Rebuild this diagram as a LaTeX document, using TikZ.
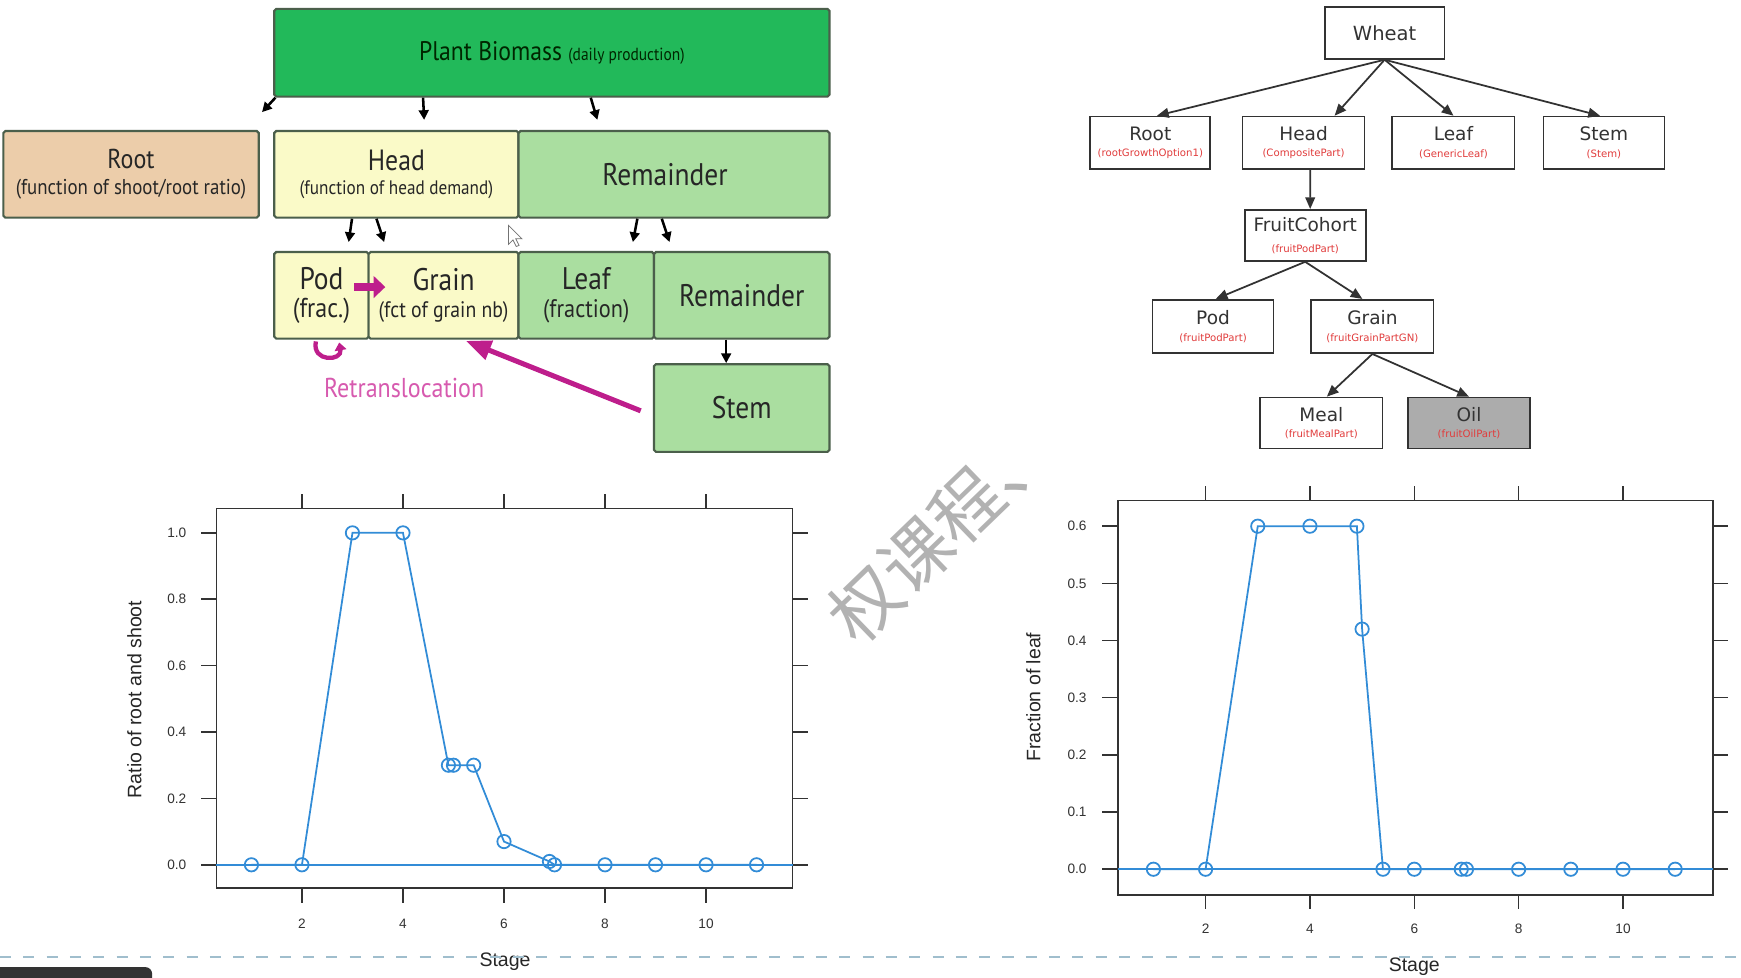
\documentclass[tikz,border=0pt]{standalone}
\usepackage{fontspec}
\setmainfont{Liberation Sans}
\newfontfamily\condf[FakeStretch=0.88]{PT Sans}
\newfontfamily\dejavu{DejaVu Sans}
\newfontfamily\cjk{Noto Sans CJK SC}
\usetikzlibrary{arrows.meta,calc}
\definecolor{pbgreen}{RGB}{34,185,90}
\definecolor{rootfill}{RGB}{236,205,170}
\definecolor{headfill}{RGB}{250,250,200}
\definecolor{remfill}{RGB}{170,222,160}
\definecolor{boxline}{RGB}{75,95,75}
\definecolor{mag}{RGB}{190,30,140}
\definecolor{magtxt}{RGB}{215,90,175}
\definecolor{treeline}{RGB}{50,50,50}
\definecolor{treered}{RGB}{225,60,60}
\definecolor{oilfill}{RGB}{172,172,172}
\definecolor{plotblue}{RGB}{50,140,215}
\definecolor{wmgrey}{RGB}{178,178,178}
\definecolor{dashcol}{RGB}{160,190,205}
\begin{document}
\begin{tikzpicture}[x=0.02cm,y=-0.02cm,
  sz/.style 2 args={minimum width=#1*0.02cm,minimum height=#2*0.02cm},
  lbox/.style={draw=boxline,line width=1.1pt,rounded corners=1pt,inner sep=0pt,align=center,
    font=\condf\fontsize{16}{17}\selectfont,text=black!85},
  larr/.style={-{Triangle[length=5pt,width=5pt]},line width=1.3pt,black},
  marr/.style={mag,line width=2.6pt},
  tbox/.style={draw=treeline,line width=0.9pt,fill=white,inner sep=0pt,align=center,
    font=\dejavu\fontsize{9.5}{10}\selectfont,text=black!80},
  tarr/.style={treeline,line width=0.9pt,-{Triangle[length=6pt,width=5pt]}},
  frame/.style={black!80,line width=0.8pt},
  pline/.style={plotblue,line width=0.9pt},
  tlab/.style={font=\fontsize{7}{8}\selectfont,text=black!80},
  alab/.style={font=\fontsize{10}{12}\selectfont,text=black!85}
]
\fill[white] (0,0) rectangle (1568,880);
\useasboundingbox (0,0) rectangle (1568,880);

% ---------------- left block diagram ----------------
\node[lbox,fill=pbgreen,sz={500}{79},text=black!85!green,font=\condf\fontsize{13.8}{15}\selectfont] (pb) at (497,47.5)
  {Plant Biomass {\fontsize{9}{10}\selectfont (daily production)}};
\node[lbox,fill=rootfill,sz={230}{78},font=\condf\fontsize{14}{15}\selectfont] (root) at (118,157)
  {Root\\[-2pt]{\fontsize{11}{12}\selectfont (function of shoot/root ratio)}};
\node[lbox,fill=headfill,sz={220}{78},font=\condf\fontsize{15}{16}\selectfont] (head) at (357,157)
  {Head\\[-3.4pt]{\fontsize{10}{12}\selectfont (function of head demand)}};
\node[lbox,fill=remfill,sz={280}{78}] (remA) at (607,157) {Remainder\hspace*{0.32cm}};
\node[lbox,fill=headfill,sz={85}{78}] (pod) at (289.5,266)
  {Pod\\[-2.7pt]{\fontsize{14}{15}\selectfont (frac.)}};
\node[lbox,fill=headfill,sz={135}{78}] (grain) at (399.5,266)
  {Grain\\[-2.7pt]{\fontsize{11.5}{13}\selectfont (fct of grain nb)}};
\node[lbox,fill=remfill,sz={122}{78}] (leaf) at (528,266)
  {Leaf\\[-2.7pt]{\fontsize{13}{15}\selectfont (fraction)}};
\node[lbox,fill=remfill,sz={158}{78}] (remB) at (668,266) {Remainder};
\node[lbox,fill=remfill,sz={158}{79}] (stem) at (668,367.5) {Stem};

\coordinate (e1) at (236,101);
\coordinate (e2) at (382,108);
\coordinate (e3) at (538,108);
\draw[larr] ($(pb.south west)+(2,0)$) -- (e1);
\draw[larr] ($(pb.south west)+(135,0)$) -- (e2);
\draw[larr] ($(pb.south west)+(286,0)$) -- (e3);
\coordinate (e4) at (314,218);
\coordinate (e5) at (346,218);
\draw[larr] ($(head.south west)+(71,0)$) -- (e4);
\draw[larr] ($(head.south west)+(93,0)$) -- (e5);
\coordinate (e6) at (570,218);
\coordinate (e7) at (603,218);
\draw[larr] ($(remA.south west)+(108,0)$) -- (e6);
\draw[larr] ($(remA.south west)+(130,0)$) -- (e7);
\draw[larr] ([xshift=-0.28cm]remB.south) -- ([xshift=-0.28cm]stem.north);

% magenta arrows
\draw[marr,line width=4.2pt,-{Triangle[length=6pt,width=11pt]}] ([xshift=-0.28cm,yshift=0.15cm]pod.east) -- ([xshift=0.32cm,yshift=0.15cm]grain.west);
\draw[marr,-{Triangle[length=13pt,width=10pt]}] ([xshift=-0.22cm,yshift=-0.05cm]stem.west) -- ([xshift=0.4cm,yshift=-0.02cm]grain.south);
\draw[marr,line width=2.2pt,-{Triangle[length=4pt,width=6pt]}] ([xshift=-0.1cm,yshift=-0.03cm]pod.south)
  .. controls +(-0.08cm,-0.38cm) and +(0.06cm,-0.34cm) .. ([xshift=0.32cm,yshift=-0.05cm]pod.south);
\node[font=\condf\fontsize{14}{16}\selectfont,text=magtxt] (retr) at (364,349) {Retranslocation};

% mouse cursor
\draw[black!55,fill=white,line width=0.4pt] (458,203) -- (458,220) -- (462,216) -- (465,222) -- (467.5,221) -- (464.5,215) -- (470,215) -- cycle;

% ---------------- right tree ----------------
\node[tbox,sz={108}{47},font=\dejavu\fontsize{10}{11}\selectfont] (wheat) at (1247,29.5) {Wheat};
\node[tbox,sz={108}{47}] (troot) at (1036,128.5)
  {Root\\[-1.5pt]{\fontsize{5.2}{6}\selectfont\color{treered}(rootGrowthOption1)}};
\node[tbox,sz={110}{47}] (thead) at (1174,128.5)
  {Head\\[-1.5pt]{\fontsize{5.2}{6}\selectfont\color{treered}(CompositePart)}};
\node[tbox,sz={110}{47}] (tleaf) at (1309,128.5)
  {Leaf\\[-1.5pt]{\fontsize{5.2}{6}\selectfont\color{treered}(GenericLeaf)}};
\node[tbox,sz={109}{47}] (tstem) at (1444.5,128.5)
  {Stem\\[-1.5pt]{\fontsize{5.2}{6}\selectfont\color{treered}(Stem)}};
\node[tbox,sz={109}{46}] (fruit) at (1175.5,212)
  {FruitCohort\\[1pt]{\fontsize{5.2}{6}\selectfont\color{treered}(fruitPodPart)}};
\node[tbox,sz={109}{48}] (tpod) at (1092.5,294)
  {Pod\\[-1.5pt]{\fontsize{5.2}{6}\selectfont\color{treered}(fruitPodPart)}};
\node[tbox,sz={110}{48}] (tgrain) at (1236,294)
  {Grain\\[-1.5pt]{\fontsize{5.2}{6}\selectfont\color{treered}(fruitGrainPartGN)}};
\node[tbox,sz={110}{46}] (meal) at (1190,381)
  {Meal\\[-1.5pt]{\fontsize{5.2}{6}\selectfont\color{treered}(fruitMealPart)}};
\node[tbox,sz={110}{46},fill=oilfill] (oil) at (1323,381)
  {Oil\\[-1.5pt]{\fontsize{5.2}{6}\selectfont\color{treered}(fruitOilPart)}};

\draw[tarr] (wheat.south) -- ([xshift=0.12cm]troot.north);
\draw[tarr] (wheat.south) -- ([xshift=0.56cm]thead.north);
\draw[tarr] (wheat.south) -- (tleaf.north);
\draw[tarr] (wheat.south) -- ([xshift=-0.07cm]tstem.north);
\draw[tarr] ([xshift=0.12cm]thead.south) -- ([xshift=0.09cm]fruit.north);
\draw[tarr] (fruit.south) -- ([xshift=0.05cm]tpod.north);
\draw[tarr] (fruit.south) -- ([xshift=-0.18cm]tgrain.north);
\draw[tarr] (tgrain.south) -- ([xshift=0.1cm]meal.north);
\draw[tarr] (tgrain.south) -- (oil.north);

% ---------------- watermark ----------------
\node[rotate=44,text=wmgrey,font=\cjk\fontsize{36}{38}\selectfont] (wmark) at (848,478) {权课程、};

% ---------------- left chart ----------------
\begin{scope}[shift={(3.62cm,-15.58cm)},x=0.91cm,y=5.98cm]
  \draw[frame] (0.3077,-0.0702) rectangle (11.714,1.0736);
  \foreach \v [count=\i] in {0.0,0.2,0.4,0.6,0.8,1.0}{
    \draw[frame] (0.3077,\v) -- ++(-0.28cm,0);
    \draw[frame] (11.714,\v) -- ++(0.28cm,0);
    \node[tlab,anchor=east] (ly\i) at ([xshift=-0.42cm]0.3077,\v) {\v};
  }
  \foreach \s in {2,4,6,8,10}{
    \draw[frame] (\s,-0.0702) -- ++(0,-0.26cm);
    \draw[frame] (\s,1.0736) -- ++(0,0.26cm);
    \node[tlab] (lx\s) at ([yshift=-0.64cm]\s,-0.0702) {\s};
  }
  \draw[pline] (0.3077,0) -- (11.714,0);
  \draw[pline] plot coordinates {(1,0) (2,0) (3,1) (4,1) (4.9,0.3) (5,0.3) (5.4,0.3) (6,0.07) (6.9,0.01) (7,0) (8,0) (9,0) (10,0) (11,0)};
  \foreach \p in {(1,0),(2,0),(3,1),(4,1),(4.9,0.3),(5,0.3),(5.4,0.3),(6,0.07),(6.9,0.01),(7,0),(8,0),(9,0),(10,0),(11,0)}
    \draw[pline] \p circle[radius=0.12cm];
  \node[alab] (lstage) at (6.02,-0.291) {Stage};
  \node[alab,rotate=90] (lylab) at (-1.319,0.498) {Ratio of root and shoot};
\end{scope}

% ---------------- right chart ----------------
\begin{scope}[shift={(19.84cm,-15.66cm)},x=0.94cm,y=10.3cm]
  \draw[frame] (0.319,-0.0447) rectangle (11.72,0.6447);
  \foreach \v [count=\i] in {0.0,0.1,0.2,0.3,0.4,0.5,0.6}{
    \draw[frame] (0.319,\v) -- ++(-0.28cm,0);
    \draw[frame] (11.72,\v) -- ++(0.28cm,0);
    \node[tlab,anchor=east] (ry\i) at ([xshift=-0.44cm]0.319,\v) {\v};
  }
  \foreach \s in {2,4,6,8,10}{
    \draw[frame] (\s,-0.0447) -- ++(0,-0.26cm);
    \draw[frame] (\s,0.6447) -- ++(0,0.26cm);
    \node[tlab] (rx\s) at ([yshift=-0.62cm]\s,-0.0447) {\s};
  }
  \draw[pline] (0.319,0) -- (11.72,0);
  \draw[pline] plot coordinates {(1,0) (2,0) (3,0.6) (4,0.6) (4.9,0.6) (5,0.42) (5.4,0) (6,0) (6.9,0) (7,0) (8,0) (9,0) (10,0) (11,0)};
  \foreach \p in {(1,0),(2,0),(3,0.6),(4,0.6),(4.9,0.6),(5,0.42),(5.4,0),(6,0),(6.9,0),(7,0),(8,0),(9,0),(10,0),(11,0)}
    \draw[pline] \p circle[radius=0.12cm];
  \node[alab] (rstage) at (6.0,-0.171) {Stage};
  \node[alab,rotate=90] (rylab) at (-1.30,0.301) {Fraction of leaf};
\end{scope}

% ---------------- bottom screen bits ----------------
\draw[dashcol,line width=0.8pt,dash pattern=on 0.2cm off 0.22cm] (0,862) -- (1568,862);
\fill[black!80,rounded corners=0.12cm] (-10,871) rectangle (137,895);
\end{tikzpicture}
\end{document}
